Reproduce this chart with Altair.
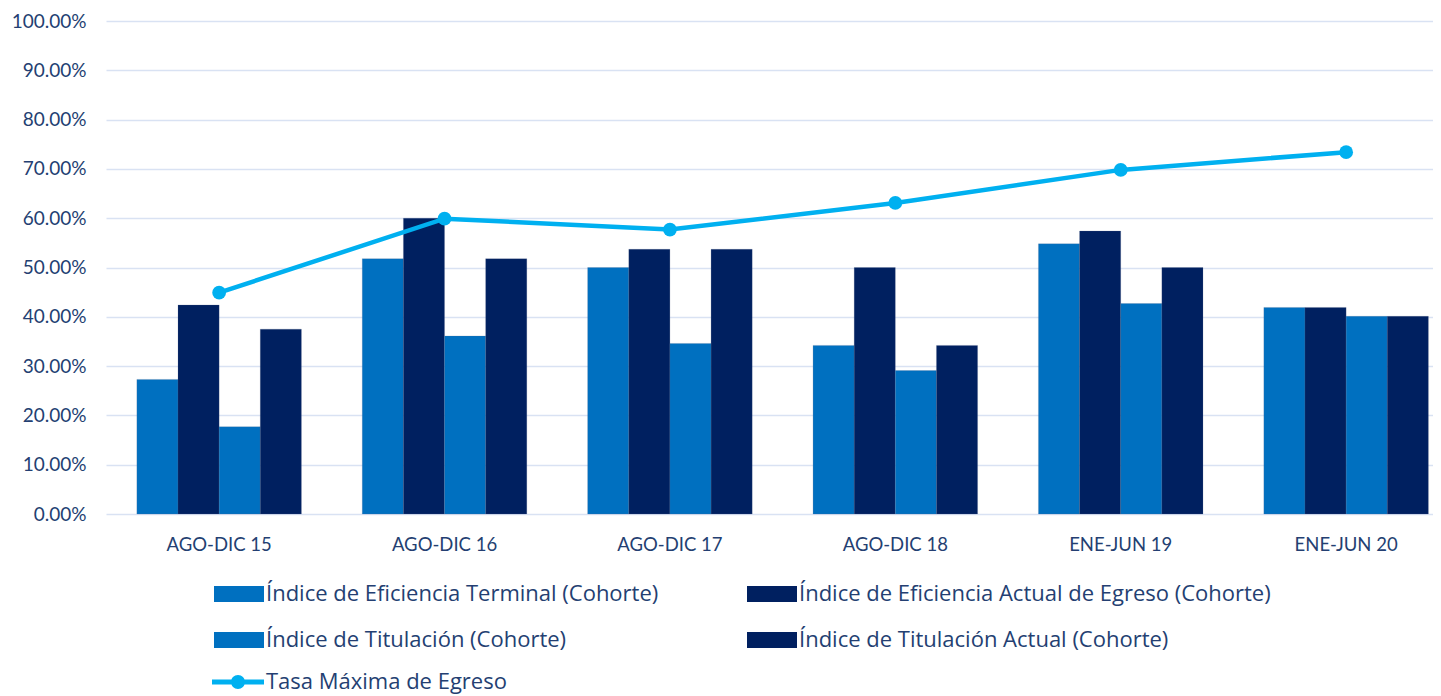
import altair as alt
import pandas as pd

periods = ["AGO-DIC 15", "AGO-DIC 16", "AGO-DIC 17", "AGO-DIC 18", "ENE-JUN 19", "ENE-JUN 20"]
series_names = [
    "Índice de Eficiencia Terminal (Cohorte)",
    "Índice de Eficiencia Actual de Egreso (Cohorte)",
    "Índice de Titulación (Cohorte)",
    "Índice de Titulación Actual (Cohorte)",
]
# legend fills column by column
legend_order = [series_names[0], series_names[2], series_names[1], series_names[3]]
line_name = "Tasa Máxima de Egreso"

eficiencia_terminal = [0.273, 0.518, 0.500, 0.342, 0.548, 0.419]
eficiencia_actual = [0.424, 0.600, 0.537, 0.500, 0.574, 0.419]
titulacion = [0.177, 0.361, 0.346, 0.291, 0.427, 0.401]
titulacion_actual = [0.375, 0.518, 0.537, 0.342, 0.500, 0.401]
tasa_maxima = [0.449, 0.599, 0.577, 0.631, 0.698, 0.734]

y_ticks = [0.0, 0.1, 0.2, 0.3, 0.4, 0.5, 0.6, 0.7, 0.8, 0.9, 1.0]

blue = "#0070C0"
navy = "#002060"
legend_colors = [blue, blue, navy, navy]
line_color = "#00B0F0"
text_color = "#243F72"
font = "Lato"
legend_font = "Open Sans"

rows = []
for i, p in enumerate(periods):
    for name, vals in zip(series_names, [eficiencia_terminal, eficiencia_actual, titulacion, titulacion_actual]):
        rows.append({"periodo": p, "serie": name, "valor": vals[i]})
bars_df = pd.DataFrame(rows)
line_df = pd.DataFrame({"periodo": periods, "serie": [line_name] * len(periods), "valor": tasa_maxima})

xscale = alt.Scale(domain=periods, paddingInner=0.27, paddingOuter=0.0787, align=0.87)
yscale = alt.Scale(domain=[0, 1])

x_enc = alt.X("periodo:N", scale=xscale, sort=periods,
              axis=alt.Axis(title=None, labelAngle=0, domain=False, ticks=False,
                            labelPadding=21, labelFontSize=18.5, labelColor=text_color, labelFont=font))
y_enc = alt.Y("valor:Q", scale=yscale,
              axis=alt.Axis(title=None, format=".2%", values=y_ticks, domain=False, ticks=False,
                            labelPadding=20, labelFontSize=19, labelColor=text_color, labelFont=font,
                            grid=True, gridColor="#D9E2F3", gridWidth=1.5))

rect_path = "M-2.5,-0.8H2.5V0.8H-2.5Z"
line_path = "M-2.7,-0.24H2.5V0.24H-2.7Z M0.6,0A0.7,0.7 0 1,1 -0.8,0A0.7,0.7 0 1,1 0.6,0Z"

bars = alt.Chart(bars_df).mark_bar(stroke="#5a6b8c", strokeWidth=0.4, strokeOpacity=0.5).encode(
    x=x_enc,
    xOffset=alt.XOffset("serie:N", sort=series_names, scale=alt.Scale(domain=series_names)),
    y=y_enc,
    color=alt.Color("serie:N", scale=alt.Scale(domain=legend_order, range=legend_colors),
                    legend=alt.Legend(title=None, orient="none", legendX=122, legendY=562,
                                      columns=2, columnPadding=88, rowPadding=24, padding=0,
                                      symbolType=rect_path, symbolSize=400, symbolStrokeWidth=0,
                                      labelOffset=16, labelFontSize=22, labelFont=legend_font,
                                      labelColor=text_color, labelLimit=700)),
)

line = alt.Chart(line_df).mark_line(color=line_color, strokeWidth=4.5).encode(
    x=alt.X("periodo:N", scale=xscale, sort=periods),
    y=alt.Y("valor:Q", scale=yscale),
)
pts = alt.Chart(line_df).mark_point(filled=True, size=190, opacity=1).encode(
    x=alt.X("periodo:N", scale=xscale, sort=periods),
    y=alt.Y("valor:Q", scale=yscale),
    color=alt.Color("serie:N", scale=alt.Scale(domain=[line_name], range=[line_color]),
                    legend=alt.Legend(title=None, orient="none", legendX=122, legendY=650, padding=0,
                                      symbolType=line_path, symbolSize=400, symbolStrokeWidth=0,
                                      symbolFillColor=line_color,
                                      labelOffset=16, labelFontSize=22, labelFont=legend_font,
                                      labelColor=text_color, labelLimit=700)),
)

chart = alt.layer(bars, alt.layer(line, pts)).resolve_scale(color="independent").properties(
    width=1327, height=493,
    autosize=alt.AutoSizeParams(type="none"),
    padding={"left": 98, "top": 13, "right": 0, "bottom": 182},
).configure_view(stroke=None)

chart.save("out.html", embed_options={"renderer": "svg", "actions": False})
